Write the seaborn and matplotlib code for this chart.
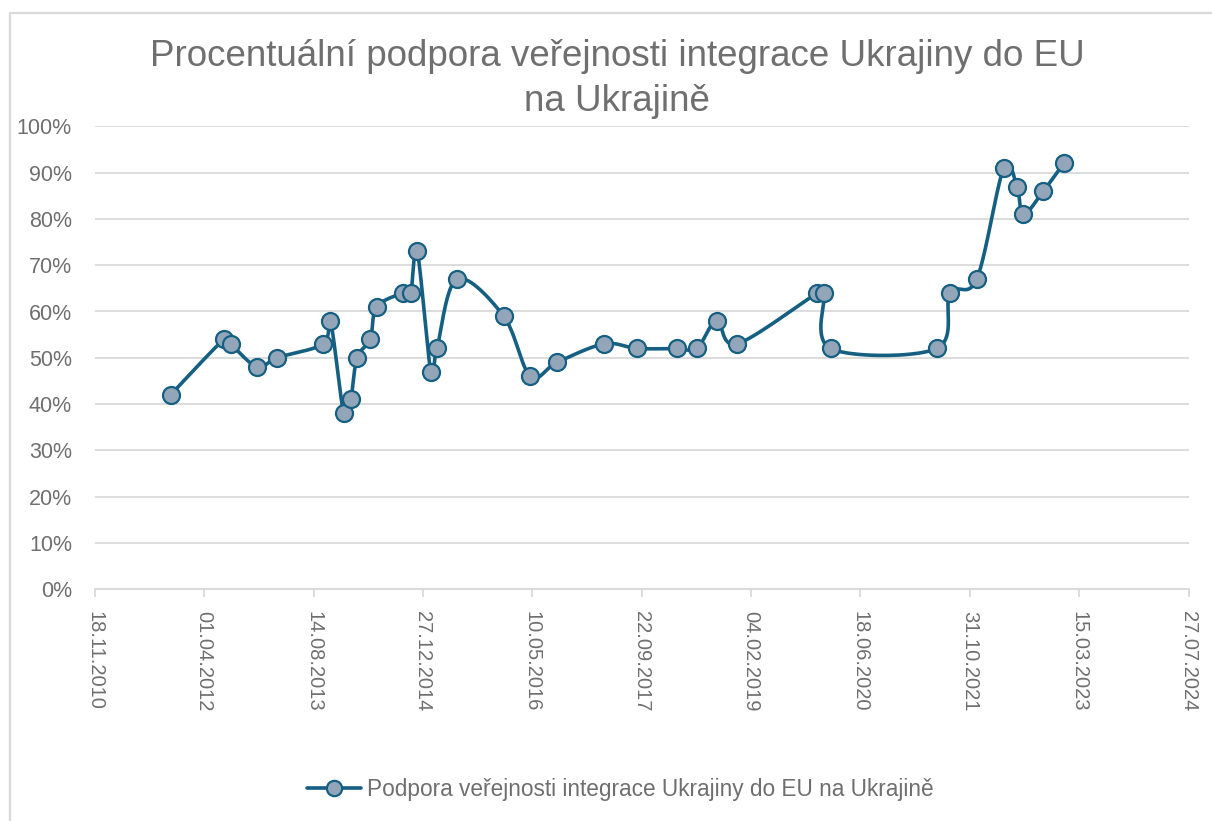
import matplotlib
matplotlib.use("Agg", force=True)
import matplotlib.pyplot as plt
import matplotlib.dates as mdates
from matplotlib.lines import Line2D
from matplotlib.ticker import PercentFormatter, FixedLocator
import numpy as np
import pandas as pd
import seaborn as sns

# survey dates and support in %
survey_dates = [
    "2011-10-31", "2012-07-01", "2012-07-31", "2012-11-29", "2013-02-28",
    "2013-09-28", "2013-10-30", "2013-12-30", "2014-01-31", "2014-03-01",
    "2014-04-30", "2014-05-30", "2014-09-28", "2014-11-01", "2014-12-01",
    "2015-02-01", "2015-03-01", "2015-06-01", "2015-12-31", "2016-05-01",
    "2016-08-31", "2017-04-03", "2017-09-02", "2018-03-02", "2018-06-01",
    "2018-08-31", "2018-12-02", "2019-12-04", "2020-01-04", "2020-02-03",
    "2021-06-02", "2021-08-02", "2021-12-02", "2022-04-04", "2022-06-04",
    "2022-07-03", "2022-10-02", "2023-01-03",
]
support_pct = [
    42, 54, 53, 48, 50,
    53, 58, 38, 41, 50,
    54, 61, 64, 64, 73,
    47, 52, 67, 59, 46,
    49, 53, 52, 52, 52,
    58, 53, 64, 64, 52,
    52, 64, 67, 91, 87,
    81, 86, 92,
]
series_name = "Podpora veřejnosti integrace Ukrajiny do EU na Ukrajině"
title = "Procentuální podpora veřejnosti integrace Ukrajiny do EU\nna Ukrajině"
axis_start = "2010-11-18"

LINE = "#156082"
FACE = "#93a6b9"
GRID = "#d9d9d9"
TEXT = "#6f6f6f"


def excel_smooth(x, y, w, h, n=40):
    # Excel-like smoothed line: cubic Bezier, Catmull-Rom control points in pixel space
    px = np.asarray(x) * w
    py = np.asarray(y) * h
    pts = np.column_stack([px, py])
    ext = np.vstack([pts[0], pts, pts[-1]])
    out = [pts[:1]]
    t = np.linspace(0, 1, n)[1:, None]
    for i in range(len(pts) - 1):
        p0, p1, p2, p3 = ext[i], ext[i + 1], ext[i + 2], ext[i + 3]
        c1 = p1 + (p2 - p0) / 6
        c2 = p2 - (p3 - p1) / 6
        seg = ((1 - t) ** 3) * p1 + 3 * ((1 - t) ** 2) * t * c1 + 3 * (1 - t) * t ** 2 * c2 + t ** 3 * p2
        out.append(seg)
    curve = np.vstack(out)
    return curve[:, 0] / w, curve[:, 1] / h


def main() -> None:
    sns.set_theme(style="white")
    plt.rcParams["font.family"] = ["Liberation Sans", "DejaVu Sans"]

    df = pd.DataFrame({"date": pd.to_datetime(survey_dates), "support": support_pct})
    ticks = pd.date_range(axis_start, periods=11, freq="500D")
    xmin, xmax = mdates.date2num(ticks[0]), mdates.date2num(ticks[-1])

    fig = plt.figure(figsize=(12.12, 8.21), dpi=100)
    ax = fig.add_axes([94.8 / 1212, 1 - 589 / 821, 1093.7 / 1212, 462.5 / 821])

    ax_w, ax_h = 1093.7, 462.5
    xn = (mdates.date2num(df["date"]) - xmin) / (xmax - xmin)
    yn = df["support"].to_numpy() / 100
    sx, sy = excel_smooth(xn, yn, ax_w, ax_h)
    smooth = pd.DataFrame({"x": sx * (xmax - xmin) + xmin, "y": sy * 100})

    sns.lineplot(data=smooth, x="x", y="y", sort=False, estimator=None,
                 color=LINE, linewidth=2.6, ax=ax, zorder=3)
    sns.scatterplot(x=mdates.date2num(df["date"]), y=df["support"], s=150,
                    color=FACE, edgecolor=LINE, linewidth=1.6, ax=ax, zorder=4)

    ax.set_xlim(xmin, xmax)
    ax.set_ylim(0, 100)
    ax.xaxis.set_major_locator(FixedLocator(mdates.date2num(ticks)))
    ax.xaxis.set_major_formatter(mdates.DateFormatter("%d.%m.%Y"))
    ax.yaxis.set_major_locator(FixedLocator(np.arange(0, 101, 10)))
    ax.yaxis.set_major_formatter(PercentFormatter(xmax=100, decimals=0))
    ax.set_xlabel("")
    ax.set_ylabel("")

    ax.grid(axis="y", color=GRID, linewidth=1.3)
    ax.grid(axis="x", visible=False)
    for side in ["left", "right", "top"]:
        ax.spines[side].set_visible(False)
    ax.spines["bottom"].set_color(GRID)
    ax.spines["bottom"].set_linewidth(1.3)
    ax.spines["bottom"].set_zorder(1)

    ax.tick_params(axis="x", bottom=True, length=6, width=1.3, color=GRID,
                   labelsize=14.5, labelcolor=TEXT, labelrotation=-90, pad=10)
    ax.tick_params(axis="y", left=False, labelsize=15.5, labelcolor=TEXT, pad=10.5)

    fig.text(617 / 1212, 1 - 79 / 821, title, ha="center", va="center",
             fontsize=26.5, color=TEXT, linespacing=1.35)

    handle = Line2D([], [], color=LINE, linewidth=2.6, marker="o", markersize=11,
                    markerfacecolor=FACE, markeredgecolor=LINE, markeredgewidth=1.6)
    fig.legend([handle], [series_name], loc="center", bbox_to_anchor=(620 / 1212, 1 - 789 / 821),
               frameon=False, fontsize=16.3, labelcolor=TEXT, handlelength=2.4,
               handletextpad=0.25)

    # chart-area border (left and top edges visible in the source)
    fig.add_artist(Line2D([9.5 / 1212, 9.5 / 1212], [0, 1 - 13.5 / 821],
                          transform=fig.transFigure, color=GRID, linewidth=1.6))
    fig.add_artist(Line2D([9.5 / 1212, 1], [1 - 13.5 / 821, 1 - 13.5 / 821],
                          transform=fig.transFigure, color=GRID, linewidth=1.6))

    fig.savefig("out.png", dpi=100)
    plt.close(fig)


if __name__ == "__main__":
    main()
